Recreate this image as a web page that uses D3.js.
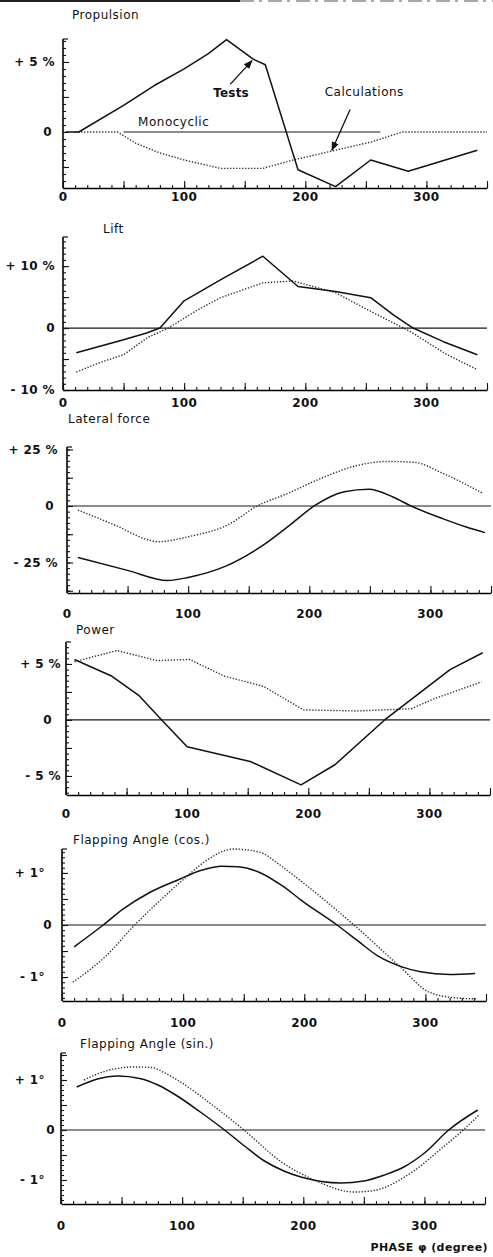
<!DOCTYPE html>
<html>
<head>
<meta charset="utf-8">
<script src="https://cdn.jsdelivr.net/npm/d3@7"></script>
<style>
body { margin: 0; background: #fff; }
svg { display: block; }
.title { font-family: "DejaVu Sans", sans-serif; font-size: 12px; letter-spacing: 0.5px; fill: #111; }
.num { font-family: "DejaVu Sans", sans-serif; font-weight: bold; font-size: 12px; letter-spacing: 0.4px; fill: #111; white-space: pre; }
.note { font-family: "DejaVu Sans", sans-serif; font-size: 12px; letter-spacing: 0.5px; fill: #111; }
</style>
</head>
<body>
<svg id="chart"></svg>
<script>
// Values: [phase (deg), value]
const phaseTicks = [0, 100, 200, 300];

const propulsionTests = [[2,0],[13,0],[50,1.9],[75,3.3],[100,4.5],[120,5.6],[135,6.6],[157,5.2],[167,4.8],[194,-2.7],[225,-3.9],[254,-2.0],[285,-2.8],[342,-1.3]];
const propulsionCalc  = [[10,0],[45,0],[60,-0.8],[80,-1.5],[100,-2.0],[130,-2.6],[165,-2.6],[190,-2.0],[220,-1.4],[255,-0.7],[280,0],[350,0]];
const propulsionTickValues = [5, 0];
const propulsionTickLabels = ["+ 5 %", "0"];

const liftTests = [[11,-4],[50,-1.9],[69,-0.8],[80,0],[100,4.4],[131,7.9],[165,11.6],[194,6.7],[225,5.9],[254,4.9],[273,2.1],[289,0],[314,-2.2],[342,-4.3]];
const liftCalc  = [[11,-7.1],[30,-5.6],[50,-4.3],[70,-1.5],[87,0],[110,2.8],[130,4.9],[165,7.3],[190,7.6],[225,5.7],[251,3.0],[287,-0.6],[317,-4.3],[342,-6.7]];
const liftTickValues = [10, 0, -10];
const liftTickLabels = ["+ 10 %", "0", "- 10 %"];

const lateralTests = [[9,-22.8],[50,-28.5],[83,-33],[100,-31.6],[131,-26.6],[160,-18],[185,-8],[204,0],[229,6.3],[249,7.4],[269,4],[284,0],[310,-5.6],[329,-9.2],[345,-11.8]];
const lateralCalc  = [[9,-1.8],[41,-8.8],[67,-15],[75,-15.8],[100,-13.6],[133,-8.3],[157,0],[182,5.5],[210,12.3],[240,18],[265,19.7],[287,19.3],[310,14.5],[343,5.7]];
const lateralTickValues = [25, 0, -25];
const lateralTickLabels = ["+ 25 %", "0", "- 25 %"];

const powerTests = [[7,5.4],[38,3.9],[60,2.2],[79,0],[100,-2.4],[152,-3.7],[194,-5.8],[222,-4],[263,0],[317,4.5],[344,6]];
const powerCalc  = [[7,5.2],[42,6.2],[75,5.3],[102,5.4],[131,3.9],[163,3.0],[196,0.9],[240,0.8],[285,1.0],[304,1.9],[343,3.4]];
const powerTickValues = [5, 0, -5];
const powerTickLabels = ["+ 5 %", "0", "- 5 %"];

const flapCosTests = [[10,-0.42],[34,0],[50,0.3],[72,0.62],[97,0.88],[115,1.05],[132,1.13],[145,1.12],[164,1.0],[182,0.75],[199,0.45],[227,0],[245,-0.32],[261,-0.6],[280,-0.8],[296,-0.9],[320,-0.95],[341,-0.93]];
const flapCosCalc  = [[9,-1.1],[37,-0.58],[60,0],[80,0.45],[100,0.87],[120,1.25],[141,1.46],[163,1.4],[180,1.15],[198,0.83],[241,0],[279,-0.8],[303,-1.29],[325,-1.4],[343,-1.42]];
const flapCosTickValues = [1, 0, -1];
const flapCosTickLabels = ["+ 1°", "0", "- 1°"];

const flapSinTests = [[13,0.86],[30,1.02],[47,1.08],[65,1.03],[80,0.9],[96,0.68],[115,0.36],[135,0],[152,-0.33],[168,-0.62],[184,-0.82],[198,-0.94],[215,-1.03],[231,-1.06],[250,-1.02],[267,-0.9],[283,-0.74],[300,-0.46],[320,0],[344,0.4]];
const flapSinCalc  = [[19,1.0],[40,1.2],[61,1.26],[75,1.25],[85,1.15],[96,1.0],[126,0.48],[151,0],[182,-0.64],[209,-1.0],[242,-1.24],[256,-1.22],[290,-0.84],[315,-0.35],[332,0],[345,0.3]];
const flapSinTickValues = [1, 0, -1];
const flapSinTickLabels = ["+ 1°", "0", "- 1°"];

const W = 493, H = 1257;

// layout of the six stacked panels (pixels)
const panels = [
  {title: "Propulsion", titleX: 72, titleY: 19, x0: 63, top: 39, bottom: 188, domain: [-4, 6.64],
   tv: propulsionTickValues, tl: propulsionTickLabels, gap: 8, zeroGap: 11, xLabelY: 201,
   minor: 0.5, major: 2.5, tests: propulsionTests, calc: propulsionCalc, curve: d3.curveLinear, zero: [50, 262]},
  {title: "Lift", titleX: 103, titleY: 233, x0: 63, top: 237, bottom: 390, domain: [-10, 14.7],
   tv: liftTickValues, tl: liftTickLabels, gap: 8, zeroGap: 8, xLabelY: 407,
   minor: 1, major: 5, tests: liftTests, calc: liftCalc, curve: d3.curveLinear, zero: [0, 350]},
  {title: "Lateral force", titleX: 68, titleY: 423, x0: 67, top: 447, bottom: 593, domain: [-38.5, 26.1],
   tv: lateralTickValues, tl: lateralTickLabels, gap: 9, zeroGap: 13, xLabelY: 618,
   minor: 2.5, major: 12.5, tests: lateralTests, calc: lateralCalc, curve: d3.curveMonotoneX, zero: [0, 350]},
  {title: "Power", titleX: 76, titleY: 634, x0: 66, top: 642, bottom: 795, domain: [-6.7, 6.96],
   tv: powerTickValues, tl: powerTickLabels, gap: 5, zeroGap: 14, xLabelY: 818,
   minor: 0.5, major: 2.5, tests: powerTests, calc: powerCalc, curve: d3.curveLinear, zero: [0, 350]},
  {title: "Flapping Angle (cos.)", titleX: 73, titleY: 844, x0: 62, top: 849, bottom: 1001, domain: [-1.46, 1.46],
   tv: flapCosTickValues, tl: flapCosTickLabels, gap: 17, zeroGap: 10, xLabelY: 1027,
   minor: 0.1, major: 0.5, tests: flapCosTests, calc: flapCosCalc, curve: d3.curveMonotoneX, zero: [0, 350]},
  {title: "Flapping Angle (sin.)", titleX: 80, titleY: 1048, x0: 61, top: 1053, bottom: 1204, domain: [-1.48, 1.54],
   tv: flapSinTickValues, tl: flapSinTickLabels, gap: 16, zeroGap: 6, xLabelY: 1230,
   minor: 0.1, major: 0.5, tests: flapSinTests, calc: flapSinCalc, curve: d3.curveMonotoneX, zero: [0, 350]}
];

const svg = d3.select("#chart").attr("width", W).attr("height", H);

svg.append("defs").append("marker")
  .attr("id", "arrow")
  .attr("viewBox", "0 0 10 10")
  .attr("refX", 9).attr("refY", 5)
  .attr("markerWidth", 7).attr("markerHeight", 7)
  .attr("orient", "auto")
  .append("path")
  .attr("d", "M0,1L10,5L0,9z")
  .attr("fill", "#111");

// scanner edge at the top of the page
svg.append("line")
  .attr("x1", 0).attr("x2", 240).attr("y1", 1).attr("y2", 1)
  .attr("stroke", "#222").attr("stroke-width", 2);
svg.append("line")
  .attr("x1", 240).attr("x2", W).attr("y1", 1).attr("y2", 1)
  .attr("stroke", "#555").attr("stroke-width", 1.2)
  .attr("stroke-dasharray", "14,5,3,6");

function steps(lo, hi, step) {
  const start = Math.ceil(lo / step - 1e-9);
  const end = Math.floor(hi / step + 1e-9);
  return d3.range(start, end + 1).map(i => +(i * step).toFixed(4));
}

panels.forEach((p, idx) => {
  const x = d3.scaleLinear().domain([0, 350]).range([p.x0, p.x0 + 424]);
  const y = d3.scaleLinear().domain(p.domain).range([p.bottom, p.top]);
  const g = svg.append("g").attr("class", "panel panel-" + idx);

  g.append("text").attr("class", "title")
    .attr("x", p.titleX).attr("y", p.titleY).text(p.title);

  // left axis with inside ticks
  const yAxisMinor = d3.axisRight(y).tickValues(steps(p.domain[0], p.domain[1], p.minor)).tickSize(3).tickFormat("");
  const yAxisMajor = d3.axisRight(y).tickValues(steps(p.domain[0], p.domain[1], p.major)).tickSize(6).tickFormat("");
  g.append("g").attr("transform", `translate(${p.x0},0)`).call(yAxisMinor)
    .call(s => s.select(".domain").remove());
  g.append("g").attr("transform", `translate(${p.x0},0)`).call(yAxisMajor)
    .call(s => s.select(".domain").remove());
  g.append("line")
    .attr("x1", p.x0).attr("x2", p.x0)
    .attr("y1", p.top).attr("y2", p.bottom)
    .attr("stroke", "#111").attr("stroke-width", 1.7);
  g.append("line")
    .attr("x1", p.x0).attr("x2", p.x0 + 5)
    .attr("y1", p.top).attr("y2", p.top)
    .attr("stroke", "#111").attr("stroke-width", 1.2);

  // bottom axis, ticks pointing up
  const xAxisMinor = d3.axisTop(x).tickValues(d3.range(0, 351, 10)).tickSize(3).tickSizeOuter(0).tickFormat("");
  const xAxisMajor = d3.axisTop(x).tickValues(d3.range(0, 351, 50)).tickSize(7).tickSizeOuter(0).tickFormat("");
  g.append("g").attr("transform", `translate(0,${p.bottom})`).call(xAxisMinor)
    .call(s => s.select(".domain").attr("stroke-width", 1.7));
  g.append("g").attr("transform", `translate(0,${p.bottom})`).call(xAxisMajor)
    .call(s => s.select(".domain").remove());
  g.selectAll(".tick line").attr("stroke", "#111").attr("stroke-width", 1.1);

  g.selectAll(".xlab").data(phaseTicks).enter().append("text")
    .attr("class", "num xlab")
    .attr("x", d => x(d)).attr("y", p.xLabelY)
    .attr("text-anchor", "middle")
    .text(d => d);

  g.selectAll(".ylab").data(p.tv).enter().append("text")
    .attr("class", "num ylab")
    .attr("x", d => p.x0 - (d === 0 ? p.zeroGap : p.gap))
    .attr("y", d => y(d)).attr("dy", "0.35em")
    .attr("text-anchor", "end")
    .text((d, i) => p.tl[i]);

  // zero reference
  g.append("line")
    .attr("x1", x(p.zero[0])).attr("x2", x(p.zero[1]))
    .attr("y1", y(0)).attr("y2", y(0))
    .attr("stroke", "#1a1a1a").attr("stroke-width", 1.2);

  const line = d3.line().x(d => x(d[0])).y(d => y(d[1])).curve(p.curve);

  g.append("path").datum(p.calc)
    .attr("d", line)
    .attr("fill", "none")
    .attr("stroke", "#2a2a2a")
    .attr("stroke-width", 1.4)
    .attr("stroke-dasharray", "1.3,1.7");

  g.append("path").datum(p.tests)
    .attr("d", line)
    .attr("fill", "none")
    .attr("stroke", "#111")
    .attr("stroke-width", 1.5)
    .attr("stroke-linejoin", "round");

  if (idx === 0) {
    // annotations on the propulsion panel
    g.append("text").attr("class", "note").attr("x", x(62)).attr("y", y(0.43)).text("Monocyclic");
    g.append("text").attr("class", "note").attr("x", x(124)).attr("y", y(2.5))
      .style("font-weight", "bold").style("letter-spacing", "0.2px").text("Tests");
    g.append("text").attr("class", "note").attr("x", x(216)).attr("y", y(2.6)).text("Calculations");
    g.append("line")
      .attr("x1", x(138)).attr("y1", y(3.4)).attr("x2", x(156)).attr("y2", y(5.1))
      .attr("stroke", "#111").attr("stroke-width", 1.3).attr("marker-end", "url(#arrow)");
    g.append("line")
      .attr("x1", x(237)).attr("y1", y(1.6)).attr("x2", x(222)).attr("y2", y(-1.3))
      .attr("stroke", "#111").attr("stroke-width", 1.3).attr("marker-end", "url(#arrow)");
  }
});

svg.append("text").attr("class", "num")
  .attr("x", 488).attr("y", 1251)
  .attr("text-anchor", "end")
  .style("font-size", "11px")
  .text("PHASE φ (degree)");
</script>
</body>
</html>
